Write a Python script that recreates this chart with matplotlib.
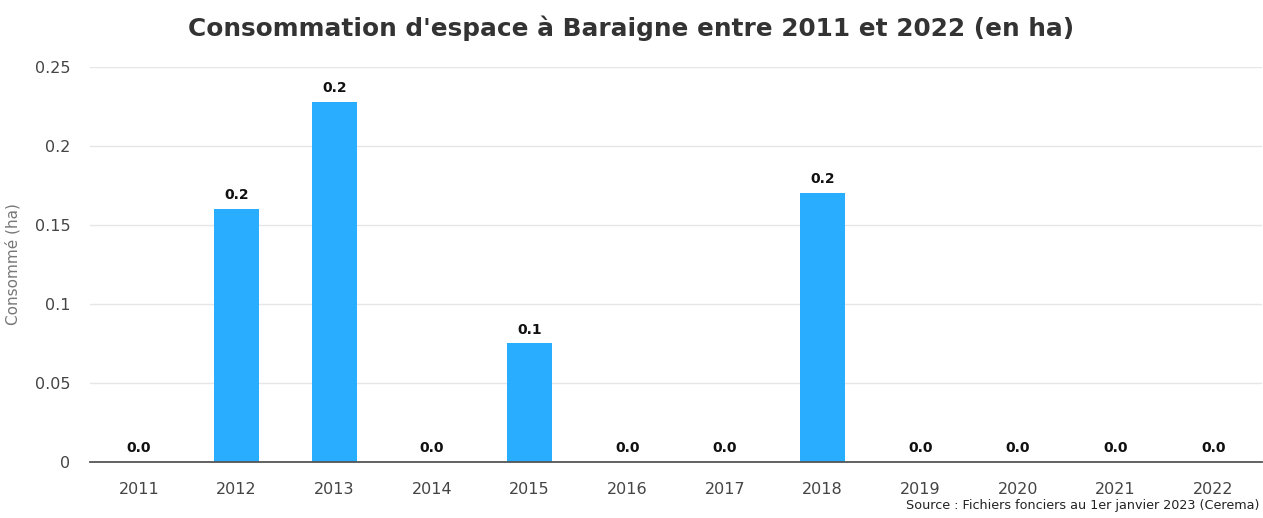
import matplotlib
matplotlib.use('Agg')
import matplotlib.pyplot as plt
import numpy as np

# Data
years = ['2011', '2012', '2013', '2014', '2015', '2016', '2017', '2018',
         '2019', '2020', '2021', '2022']
consumed = [0.0, 0.160, 0.228, 0.0, 0.075, 0.0, 0.0, 0.170, 0.0, 0.0, 0.0, 0.0]
yticks = [0, 0.05, 0.1, 0.15, 0.2, 0.25]
ytick_labels = ['0', '0.05', '0.1', '0.15', '0.2', '0.25']

fig = plt.figure(figsize=(12.63, 5.18), dpi=100)
ax = fig.add_axes([0.0713, 0.108, 0.928, 0.763])

x = np.arange(len(years))
bars = ax.bar(x, consumed, width=0.46, color='#29adfe', zorder=3)

for bar, val in zip(bars, consumed):
    ax.annotate(f'{val:.1f}', (bar.get_x() + bar.get_width() / 2, bar.get_height()),
                xytext=(0, 5), textcoords='offset points', ha='center', va='bottom',
                fontsize=10, fontweight='bold', color='#111111')

ax.set_xlim(-0.5, len(years) - 0.5)
ax.set_ylim(0, 0.25)
ax.set_xticks(x)
ax.set_xticklabels(years, fontsize=11.5, color='#444444')
ax.set_yticks(yticks)
ax.set_yticklabels(ytick_labels, fontsize=11.5, color='#444444')
ax.tick_params(axis='x', length=0, pad=14)
ax.tick_params(axis='y', length=0, pad=14)

ax.grid(axis='y', color='#e6e6e6', linewidth=1, zorder=0)
for side in ['top', 'right', 'left']:
    ax.spines[side].set_visible(False)
ax.spines['bottom'].set_color('#555555')
ax.spines['bottom'].set_linewidth(1.3)
ax.spines['bottom'].set_zorder(4)

ax.set_ylabel('Consommé (ha)', fontsize=11, color='#777777')
ax.yaxis.set_label_coords(-0.059, 0.5)
fig.text(0.5, 0.945, "Consommation d'espace à Baraigne entre 2011 et 2022 (en ha)",
         ha='center', va='center', fontsize=17.8, fontweight='bold', color='#333333')
fig.text(0.997, 0.012, 'Source : Fichiers fonciers au 1er janvier 2023 (Cerema)',
         ha='right', va='bottom', fontsize=9.2, color='#222222')

fig.savefig('out.png', dpi=100)
